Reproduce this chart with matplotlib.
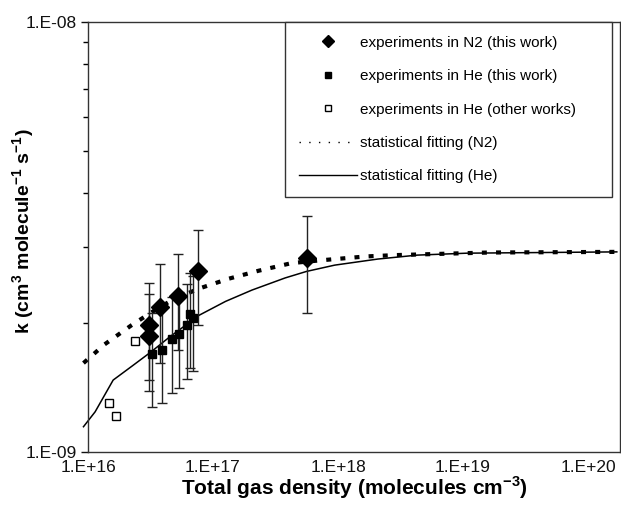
import matplotlib
matplotlib.use("Agg")
import matplotlib.pyplot as plt
from matplotlib.lines import Line2D
from matplotlib.ticker import FixedLocator, FixedFormatter, NullFormatter, NullLocator

plt.rcParams['font.family'] = ['Liberation Sans', 'DejaVu Sans']
plt.rcParams['mathtext.fontset'] = 'custom'
plt.rcParams['mathtext.rm'] = 'Liberation Sans'
plt.rcParams['mathtext.bf'] = 'Liberation Sans:bold'

# experiments in N2 (this work)
n2_x = [3.05e16, 3.1e16, 3.75e16, 5.2e16, 7.65e16, 5.6e17]
n2_k = [1.86e-9, 1.97e-9, 2.17e-9, 2.31e-9, 2.63e-9, 2.82e-9]
n2_err = [0.47e-9, 0.50e-9, 0.56e-9, 0.58e-9, 0.66e-9, 0.72e-9]

# experiments in He (this work)
he_x = [3.27e16, 3.93e16, 4.67e16, 5.38e16, 6.16e16, 6.6e16, 6.96e16]
he_k = [1.69e-9, 1.73e-9, 1.83e-9, 1.88e-9, 1.97e-9, 2.09e-9, 2.05e-9]
he_err = [0.42e-9, 0.43e-9, 0.46e-9, 0.47e-9, 0.49e-9, 0.52e-9, 0.51e-9]

# experiments in He (other works)
oth_x = [1.47e16, 1.67e16, 2.36e16]
oth_k = [1.30e-9, 1.21e-9, 1.81e-9]

# statistical fitting (N2)
fit_n2_x = [9.2e15, 1.36e16, 2.22e16, 3.2e16, 4.75e16, 7.75e16, 1.34e17, 2.32e17,
            4.26e17, 7.16e17, 1.68e18, 2.89e18, 6.81e18, 1.6e19, 1.7e20]
fit_n2_k = [1.61e-9, 1.78e-9, 1.97e-9, 2.11e-9, 2.26e-9, 2.40e-9, 2.53e-9, 2.64e-9,
            2.75e-9, 2.79e-9, 2.85e-9, 2.87e-9, 2.89e-9, 2.91e-9, 2.92e-9]

# statistical fitting (He)
fit_he_x = [9.2e15, 1.14e16, 1.59e16, 2.29e16, 3.2e16, 4.48e16, 7.75e16, 1.26e17,
            2.05e17, 3.78e17, 5.6e17, 9.41e17, 2.08e18, 4.31e18, 1.08e19, 1.7e20]
fit_he_k = [1.145e-9, 1.24e-9, 1.47e-9, 1.59e-9, 1.71e-9, 1.85e-9, 2.08e-9, 2.24e-9,
            2.38e-9, 2.54e-9, 2.63e-9, 2.72e-9, 2.81e-9, 2.87e-9, 2.90e-9, 2.92e-9]

x_ticks = [1e16, 1e17, 1e18, 1e19, 1e20]
x_labels = ['1.E+16', '1.E+17', '1.E+18', '1.E+19', '1.E+20']
y_ticks = [1e-9, 1e-8]
y_labels = ['1.E-09', '1.E-08']
y_minor = [2e-9, 3e-9, 4e-9, 5e-9, 6e-9, 7e-9, 8e-9, 9e-9]

fig = plt.figure(figsize=(6.21, 5.08), dpi=100)
ax = fig.add_axes([88 / 621, 56 / 508, 532 / 621, 430 / 508])
ax.set_xscale('log')
ax.set_yscale('log')

# fitted curves
ax.plot(fit_he_x, fit_he_k, color='black', lw=1.1, clip_on=False, zorder=2)
ax.plot(fit_n2_x, fit_n2_k, color='black', lw=3, linestyle=(0, (1.2, 2.2)),
        clip_on=False, zorder=2)

# error bars
ax.errorbar(n2_x, n2_k, yerr=n2_err, fmt='none', ecolor='#222222', elinewidth=1,
            capsize=3.5, capthick=1, zorder=3)
ax.errorbar(he_x, he_k, yerr=he_err, fmt='none', ecolor='#222222', elinewidth=1,
            capsize=3.5, capthick=1, zorder=3)

# markers
ax.plot(n2_x, n2_k, 'D', color='black', ms=9, zorder=5)
ax.plot(he_x, he_k, 's', color='black', ms=6, zorder=5)
ax.plot(oth_x, oth_k, 's', mfc='white', mec='black', mew=1, ms=6, zorder=5)

ax.set_xlim(1e16, 10 ** 20.256)
ax.set_ylim(1e-9, 1e-8)

ax.xaxis.set_major_locator(FixedLocator(x_ticks))
ax.xaxis.set_major_formatter(FixedFormatter(x_labels))
ax.xaxis.set_minor_locator(NullLocator())
ax.yaxis.set_major_locator(FixedLocator(y_ticks))
ax.yaxis.set_major_formatter(FixedFormatter(y_labels))
ax.yaxis.set_minor_locator(FixedLocator(y_minor))
ax.yaxis.set_minor_formatter(NullFormatter())

ax.tick_params(axis='x', which='both', length=0, pad=6, labelsize=12.5, colors='#111111')
ax.tick_params(axis='y', which='major', length=5, width=1, pad=3, labelsize=12.5,
               colors='#111111')
ax.tick_params(axis='y', which='minor', length=3.5, width=1)
for s in ax.spines.values():
    s.set_linewidth(1)
    s.set_color('#333333')

ax.set_xlabel(r'Total gas density (molecules cm$^{\mathbf{-3}}$)', fontsize=15,
              fontweight='bold')
ax.xaxis.set_label_coords(0.5, -0.052)
ax.set_ylabel(r'k (cm$^{\mathbf{3}}$ molecule$^{\mathbf{-1}}$ s$^{\mathbf{-1}}$)',
              fontsize=14, fontweight='bold')
ax.yaxis.set_label_coords(-0.096, 0.514)

handles = [
    Line2D([], [], marker='D', color='black', ls='none', ms=6.5),
    Line2D([], [], marker='s', color='black', ls='none', ms=5),
    Line2D([], [], marker='s', mfc='white', mec='black', mew=1, ls='none', ms=5),
    Line2D([], [], color='black', lw=1, linestyle=(0, (1, 6))),
    Line2D([], [], color='black', lw=1),
]
labels = ['experiments in N2 (this work)', 'experiments in He (this work)',
          'experiments in He (other works)', 'statistical fitting (N2)',
          'statistical fitting (He)']
leg = ax.legend(handles, labels, loc='upper left', bbox_to_anchor=(0.370, 1.0, 0.615, 0),
                mode='expand', borderaxespad=0, fontsize=11, handlelength=3.85,
                handletextpad=0.2, labelspacing=1.27, borderpad=0.9, fancybox=False,
                framealpha=1, edgecolor='#333333')
leg.get_frame().set_linewidth(1)

fig.savefig('out.png', dpi=100)
